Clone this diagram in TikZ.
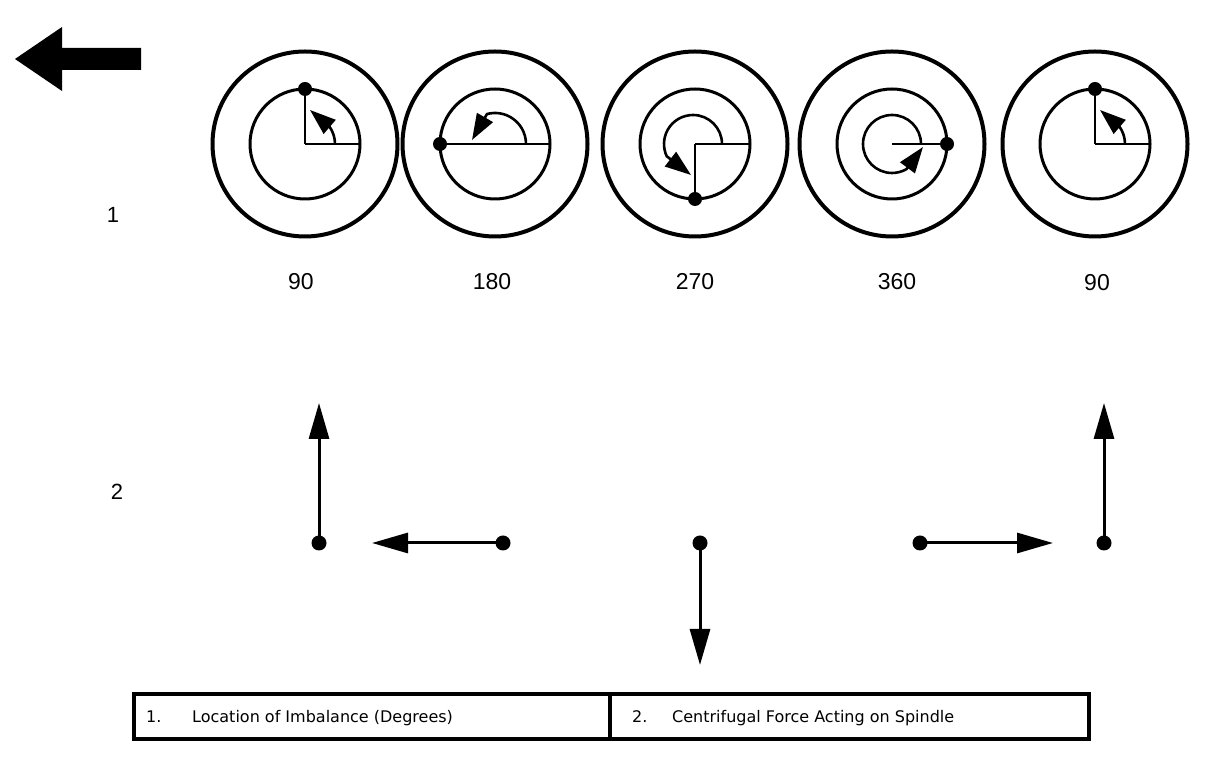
\documentclass[tikz,border=0pt]{standalone}
\usepackage{fontspec}
\setmainfont{Liberation Sans}
\newfontfamily\tabfont{DejaVu Sans}
\usetikzlibrary{arrows.meta,calc}
\begin{document}
\begin{tikzpicture}[x=1pt,y=1pt,
  outerc/.style={circle,draw,line width=4pt,minimum size=185pt,inner sep=0pt,outer sep=0pt},
  innerc/.style={circle,draw,line width=3pt,minimum size=110pt,inner sep=0pt,outer sep=0pt},
  spoke/.style={line width=2.5pt},
  cdot/.style={circle,fill,inner sep=0pt,minimum size=14pt},
  fdot/.style={circle,fill,inner sep=0pt,minimum size=15pt},
  turn/.style={line width=2.6pt,-{Triangle[length=26pt,width=18pt]}},
  force/.style={line width=3pt,-{Triangle[length=36pt,width=20pt]}},
  deg/.style={font=\fontsize{23}{25}\selectfont},
  rowlab/.style={font=\fontsize{22}{24}\selectfont},
  cellbox/.style={draw,line width=3.5pt,minimum height=45pt,inner sep=0pt,outer sep=0pt},
  cell/.style={font=\tabfont\fontsize{16}{18}\selectfont,anchor=base west,inner sep=0pt},
]
\useasboundingbox (0,0) rectangle (1216,768);

% direction arrow
\fill (15,709) -- (62,741) -- (62,720) -- (141,720) -- (141,698) -- (62,698) -- (62,677) -- cycle;

% row labels
\node[rowlab] (r1) at (113,553) {1};
\node[rowlab] (r2) at (117,276) {2};

% circles
\foreach \i/\x in {1/305,2/495,3/695,4/892,5/1095}{
  \coordinate (c\i) at (\x,624);
  \node[outerc] (o\i) at (c\i) {};
  \node[innerc] (i\i) at (c\i) {};
}

% circle 1 (90)
\draw[spoke] (c1) -- (i1.north);
\draw[spoke] (c1) -- (i1.east);
\draw[turn] ($(c1)+(30,0)$) arc[start angle=0,end angle=35,radius=30] -- ($(c1)+(5,34)$);
\node[cdot] (d1) at (i1.north) {};

% circle 2 (180)
\draw[spoke] (i2.west) -- (i2.east);
\draw[turn] ($(c2)+(31,0)$) arc[start angle=0,end angle=105,radius=31] -- ($(c2)+(-23,4)$);
\node[cdot] (d2) at (i2.west) {};

% circle 3 (270)
\draw[spoke] (c3) -- (i3.east);
\draw[spoke] (c3) -- (i3.south);
\draw[turn] ($(c3)+(27,0)$) arc[start angle=0,end angle=205,radius=29] -- ($(c3)+(-4,-31)$);
\node[cdot] (d3) at (i3.south) {};

% circle 4 (360)
\draw[spoke] (c4) -- (i4.east);
\draw[turn] ($(c4)+(29,0)$) arc[start angle=0,end angle=300,radius=29] -- ($(c4)+(31,-3)$);
\node[cdot] (d4) at (i4.east) {};

% circle 5 (90)
\draw[spoke] (c5) -- (i5.north);
\draw[spoke] (c5) -- (i5.east);
\draw[turn] ($(c5)+(30,0)$) arc[start angle=0,end angle=35,radius=30] -- ($(c5)+(5,34)$);
\node[cdot] (d5) at (i5.north) {};

% degree labels
\node[deg] (g1) at (301,486) {90};
\node[deg] (g2) at (492,486) {180};
\node[deg] (g3) at (695,486) {270};
\node[deg] (g4) at (897,486) {360};
\node[deg] (g5) at (1097,485) {90};

% centrifugal force vectors
\node[fdot] (f1) at (319,225) {};
\node[fdot] (f2) at (503,225) {};
\node[fdot] (f3) at (700,225) {};
\node[fdot] (f4) at (920,225) {};
\node[fdot] (f5) at (1104,225) {};
\coordinate (t1) at (319,365);
\coordinate (t2) at (372,225);
\coordinate (t3) at (700,103);
\coordinate (t4) at (1053,225);
\coordinate (t5) at (1104,365);
\foreach \i in {1,...,5}{ \draw[force] (f\i.center) -- (t\i); }

% legend table
\node[cellbox,minimum width=476pt] (cellA) at (372,51.5) {};
\node[cellbox,minimum width=479pt] (cellB) at (849.5,51.5) {};
\node[cell] (n1) at (146,45) {1.};
\node[cell] (l1) at (192,45) {Location of Imbalance (Degrees)};
\node[cell] (n2) at (632,45) {2.};
\node[cell] (l2) at (672,45) {Centrifugal Force Acting on Spindle};
\end{tikzpicture}
\end{document}
